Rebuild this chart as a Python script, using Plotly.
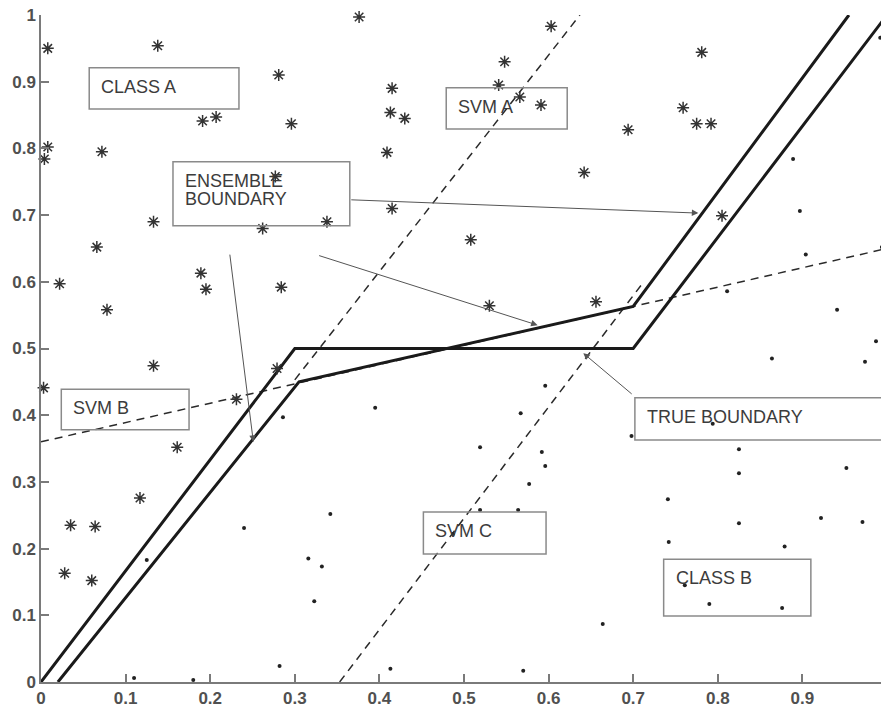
import plotly.graph_objects as go

# ---- data ----
class_a_x = [0.008, 0.138, 0.281, 0.191, 0.207, 0.296, 0.008, 0.004, 0.072, 0.277, 0.133, 0.262, 0.066,
             0.376, 0.603, 0.548, 0.415, 0.541, 0.413, 0.430, 0.566, 0.591, 0.409, 0.642, 0.415, 0.338, 0.508,
             0.781, 0.759, 0.775, 0.792, 0.694, 0.805,
             0.022, 0.189, 0.195, 0.284, 0.078, 0.133, 0.003, 0.279, 0.231, 0.161,
             0.530, 0.656, 0.117, 0.035, 0.064, 0.028, 0.060]
class_a_y = [0.950, 0.954, 0.910, 0.841, 0.847, 0.837, 0.802, 0.784, 0.795, 0.758, 0.690, 0.680, 0.652,
             0.997, 0.983, 0.930, 0.890, 0.895, 0.854, 0.845, 0.877, 0.865, 0.794, 0.764, 0.710, 0.690, 0.663,
             0.944, 0.861, 0.837, 0.837, 0.828, 0.699,
             0.597, 0.613, 0.589, 0.592, 0.558, 0.474, 0.441, 0.470, 0.424, 0.352,
             0.564, 0.570, 0.276, 0.235, 0.233, 0.163, 0.152]

class_b_x = [0.992, 0.999, 0.889, 0.897, 0.994, 0.904, 0.811, 0.941, 0.999, 0.987, 0.864, 0.974,
             0.794, 0.698, 0.825, 0.825, 0.952, 0.741, 0.825, 0.922, 0.971, 0.742, 0.879, 0.761,
             0.790, 0.876, 0.664, 0.596, 0.577, 0.519, 0.564, 0.342, 0.316, 0.332, 0.323, 0.413,
             0.570, 0.487, 0.596, 0.567, 0.395, 0.519, 0.592, 0.240, 0.125, 0.282, 0.110, 0.180, 0.286]
class_b_y = [0.966, 0.840, 0.784, 0.706, 0.652, 0.641, 0.586, 0.558, 0.532, 0.511, 0.485, 0.480,
             0.387, 0.369, 0.349, 0.313, 0.321, 0.274, 0.238, 0.246, 0.240, 0.210, 0.203, 0.145,
             0.117, 0.111, 0.087, 0.324, 0.297, 0.258, 0.258, 0.252, 0.185, 0.173, 0.121, 0.020,
             0.017, 0.222, 0.444, 0.403, 0.411, 0.352, 0.345, 0.231, 0.183, 0.024, 0.006, 0.003, 0.397]

true_x = [0, 0.3, 0.7, 1.0]
true_y = [0, 0.5, 0.5, 1.0]
ens_x = [0.02, 0.305, 0.7, 0.955]
ens_y = [0, 0.45, 0.563, 1.0]
svm_a_x = [0.30, 0.637]
svm_a_y = [0.453, 1.0]
svm_b_x = [0, 1]
svm_b_y = [0.36, 0.65]
svm_c_x = [0.353, 0.71]
svm_c_y = [0, 0.596]

tick_vals = [0, 0.1, 0.2, 0.3, 0.4, 0.5, 0.6, 0.7, 0.8, 0.9, 1]
tick_text = ["0", "0.1", "0.2", "0.3", "0.4", "0.5", "0.6", "0.7", "0.8", "0.9", "1"]

# label boxes: (text lines, x0, x1, y_bottom, y_top)
box_labels = ["CLASS A", "ENSEMBLE\nBOUNDARY", "SVM A", "SVM B", "TRUE BOUNDARY", "SVM C", "CLASS B"]
box_x0 = [0.057, 0.156, 0.479, 0.024, 0.702, 0.452, 0.736]
box_x1 = [0.234, 0.365, 0.622, 0.175, 0.995, 0.597, 0.910]
box_y0 = [0.859, 0.684, 0.829, 0.378, 0.363, 0.192, 0.099]
box_y1 = [0.921, 0.780, 0.891, 0.439, 0.426, 0.255, 0.184]

# arrows: head (x,y), tail (ax,ay)
arrow_x = [0.777, 0.587, 0.251, 0.641]
arrow_y = [0.703, 0.535, 0.360, 0.493]
arrow_ax = [0.365, 0.327, 0.223, 0.700]
arrow_ay = [0.723, 0.640, 0.643, 0.430]

fig = go.Figure()

dash_style = dict(color="#2a2a2a", width=1.5, dash="8px,6px")
fig.add_trace(go.Scatter(x=svm_a_x, y=svm_a_y, mode="lines", line=dash_style))
fig.add_trace(go.Scatter(x=svm_b_x, y=svm_b_y, mode="lines", line=dash_style))
fig.add_trace(go.Scatter(x=svm_c_x, y=svm_c_y, mode="lines", line=dash_style))

solid = dict(color="#1a1a1a", width=3)
fig.add_trace(go.Scatter(x=true_x, y=true_y, mode="lines", line=solid))
fig.add_trace(go.Scatter(x=ens_x, y=ens_y, mode="lines", line=solid))

fig.add_trace(go.Scatter(x=class_a_x, y=class_a_y, mode="markers", cliponaxis=False,
                         marker=dict(symbol="asterisk-open", size=10, color="#333333",
                                     line=dict(color="#333333", width=1.5))))
fig.add_trace(go.Scatter(x=class_b_x, y=class_b_y, mode="markers", cliponaxis=False,
                         marker=dict(symbol="circle", size=4, color="#222222")))

text_font = dict(family="Liberation Sans, Arial, sans-serif", size=18, color="#3c3c3c")
px_y = 1.0 / 667
px_x = 1.0 / 846
for lbl, x0, x1, y0, y1 in zip(box_labels, box_x0, box_x1, box_y0, box_y1):
    fig.add_shape(type="rect", x0=x0, x1=x1, y0=y0, y1=y1, xref="x", yref="y",
                  line=dict(color="#8a8a8a", width=1.5), fillcolor="rgba(0,0,0,0)")
    for i, line in enumerate(lbl.split("\n")):
        fig.add_annotation(x=x0 + 10 * px_x, y=y1 - (19 + 18.5 * i) * px_y, text=line,
                           showarrow=False, xanchor="left", yanchor="middle", font=text_font)

for hx, hy, tx, ty in zip(arrow_x, arrow_y, arrow_ax, arrow_ay):
    fig.add_annotation(x=hx, y=hy, ax=tx, ay=ty, xref="x", yref="y", axref="x", ayref="y",
                       text="", showarrow=True, arrowhead=2, arrowsize=1.3, arrowwidth=1,
                       arrowcolor="#555555")

tick_font = dict(family="Liberation Sans, Arial, sans-serif", size=17, color="#505050", weight="bold")
axis_common = dict(range=[0, 1], tickvals=tick_vals, ticktext=tick_text, showgrid=False, zeroline=False,
                   showline=True, linecolor="#7a7a7a", linewidth=1.5, ticks="inside", ticklen=8,
                   tickcolor="#7a7a7a", tickwidth=1.5, tickfont=tick_font, mirror=False,
                   automargin=False, ticklabeloverflow="allow")
fig.update_xaxes(**axis_common)
fig.update_yaxes(**axis_common)

# the page body adds an 8px offset, so the figure is sized to place the axes where the reference has them
fig.update_layout(width=881, height=703, showlegend=False, plot_bgcolor="white", paper_bgcolor="white",
                  margin=dict(l=33, r=2, t=7, b=29))

fig.write_html("out.html")
